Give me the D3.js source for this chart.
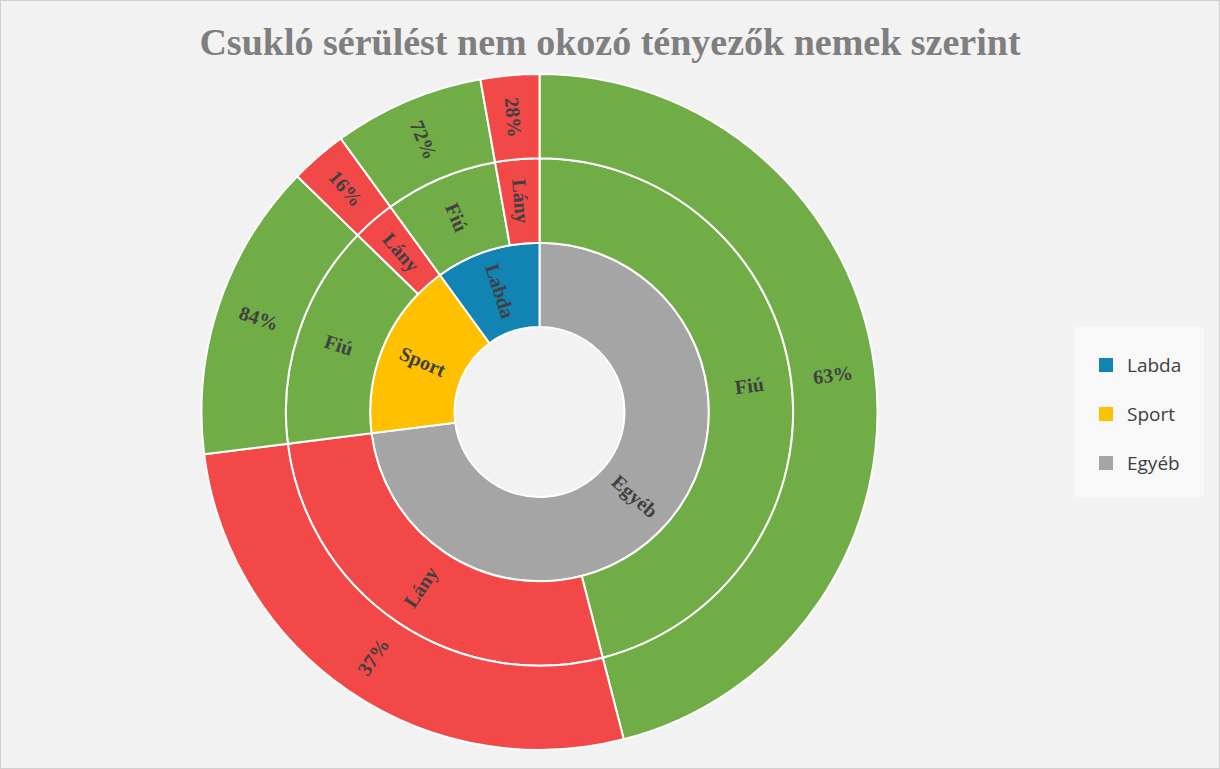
<!DOCTYPE html>
<html><head><meta charset="utf-8">
<script src="https://cdn.jsdelivr.net/npm/d3@7"></script>
<style>body{margin:0;background:#f2f2f2}svg{display:block}</style>
</head><body>
<svg id="chart" width="1220" height="769"></svg>
<script>
const categories = ['Egyéb', 'Sport', 'Labda'];
const categoryValues = [73, 17, 10];
const genders = ['Fiú', 'Lány'];
const genderShares = [[63, 37], [84, 16], [72, 28]];
const legendOrder = ['Labda', 'Sport', 'Egyéb'];

const catColor = { 'Labda': '#1184b4', 'Sport': '#ffc000', 'Egyéb': '#a5a5a5' };
const genderColor = { 'Fiú': '#70ad47', 'Lány': '#f34848' };

const svg = d3.select('#chart');
svg.append('rect').attr('x', 0.5).attr('y', 0.5).attr('width', 1219).attr('height', 768)
    .attr('fill', '#f2f2f2').attr('stroke', '#d0d0d0');

svg.append('text').attr('x', 610).attr('y', 55).attr('text-anchor', 'middle')
    .attr('font-family', 'Liberation Serif, serif').attr('font-weight', 'bold')
    .attr('font-size', 38).attr('fill', '#7f7f7f')
    .text('Csukló sérülést nem okozó tényezők nemek szerint');

const cx = 539.5, cy = 412;
const r = d3.scaleLinear().domain([0, 3]).range([85, 338]);
const g = svg.append('g').attr('transform', `translate(${cx},${cy})`);

const pie = d3.pie().sort(null).value(d => d)(categoryValues);
const inner = [], subs = [];
pie.forEach((p, i) => {
    inner.push({ name: categories[i], start: p.startAngle, end: p.endAngle });
    const tot = d3.sum(genderShares[i]);
    let a = p.startAngle;
    genderShares[i].forEach((v, j) => {
        const span = (p.endAngle - p.startAngle) * v / tot;
        subs.push({ name: genders[j], pct: v + '%', start: a, end: a + span });
        a += span;
    });
});

function ring(data, level, colorFn, labelFn) {
    const arc = d3.arc().innerRadius(r(level)).outerRadius(r(level + 1))
        .startAngle(d => d.start).endAngle(d => d.end);
    g.selectAll(null).data(data).enter().append('path')
        .attr('d', arc).attr('fill', colorFn)
        .attr('stroke', '#fff').attr('stroke-width', 2);
    g.selectAll(null).data(data).enter().append('text')
        .attr('transform', d => {
            const m = (d.start + d.end) / 2, rr = r(level + 0.5);
            const x = Math.sin(m) * rr, y = -Math.cos(m) * rr;
            let deg = m * 180 / Math.PI;
            deg = deg > 180 ? deg + 90 : deg - 90;
            return `translate(${x},${y}) rotate(${deg})`;
        })
        .attr('text-anchor', 'middle').attr('dy', '0.35em')
        .attr('font-family', 'Liberation Serif, serif').attr('font-weight', 'bold')
        .attr('font-size', 20).attr('fill', '#404040')
        .text(labelFn);
}

ring(inner, 0, d => catColor[d.name], d => d.name);
ring(subs, 1, d => genderColor[d.name], d => d.name);
ring(subs, 2, d => genderColor[d.name], d => d.pct);

const leg = svg.append('g');
leg.append('rect').attr('x', 1074).attr('y', 327).attr('width', 130).attr('height', 170).attr('fill', '#f8f8f8');
legendOrder.forEach((name, i) => {
    const y = 365 + i * 49;
    leg.append('rect').attr('x', 1099).attr('y', y - 7).attr('width', 14).attr('height', 14).attr('fill', catColor[name]);
    leg.append('text').attr('x', 1127).attr('y', y).attr('dy', '0.35em')
        .attr('font-family', 'Open Sans, sans-serif').attr('font-size', 19).attr('fill', '#404040').text(name);
});
</script>
</body></html>
